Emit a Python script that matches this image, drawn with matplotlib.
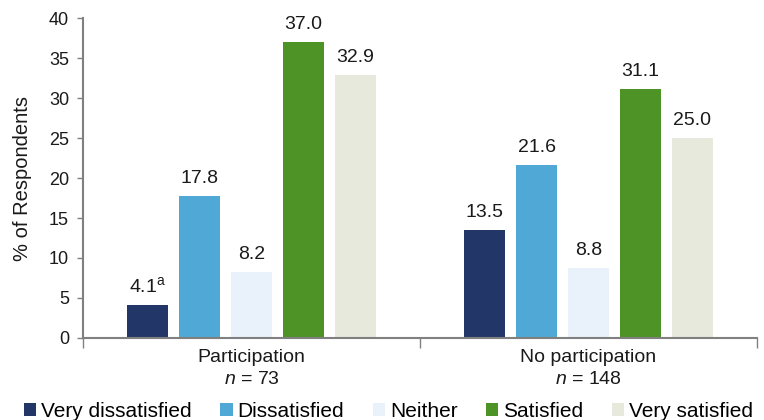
import matplotlib
matplotlib.use("Agg")
import matplotlib.pyplot as plt
import numpy as np

plt.rcParams['font.family'] = ['Liberation Sans', 'DejaVu Sans']
plt.rcParams['mathtext.fontset'] = 'custom'
plt.rcParams['mathtext.rm'] = 'Liberation Sans'
plt.rcParams['mathtext.it'] = 'Liberation Sans:italic'

groups = ["Participation\n$n$ = 73", "No participation\n$n$ = 148"]
series = ["Very dissatisfied", "Dissatisfied", "Neither", "Satisfied", "Very satisfied"]
values = {
    "Very dissatisfied": [4.1, 13.5],
    "Dissatisfied": [17.8, 21.6],
    "Neither": [8.2, 8.8],
    "Satisfied": [37.0, 31.1],
    "Very satisfied": [32.9, 25.0],
}
labels = {
    "Very dissatisfied": ["4.1$^{\\mathrm{a}}$", "13.5"],
    "Dissatisfied": ["17.8", "21.6"],
    "Neither": ["8.2", "8.8"],
    "Satisfied": ["37.0", "31.1"],
    "Very satisfied": ["32.9", "25.0"],
}
colors = ["#223767", "#4fa8d6", "#e9f1fb", "#4e9325", "#e6e9dc"]
yticks = [0, 5, 10, 15, 20, 25, 30, 35, 40]

fig = plt.figure(figsize=(7.64, 4.2), dpi=100)
ax = fig.add_axes([83/764, 1-338/420, (757-83)/764, (338-18)/420])

x = np.arange(len(groups))
step = 0.154
width = 0.122
for i, s in enumerate(series):
    pos = x + (i - 2) * step
    bars = ax.bar(pos, values[s], width, color=colors[i], label=s, zorder=2)
    for b, lab in zip(bars, labels[s]):
        ax.annotate(lab, (b.get_x() + b.get_width()/2, b.get_height()),
                    xytext=(0, 6.5), textcoords="offset points",
                    ha="center", va="bottom", fontsize=14, color="#1a1a1a")

ax.set_xlim(-0.5, 1.5)
ax.set_ylim(0, 40)
ax.set_yticks(yticks)
ax.tick_params(axis='y', labelsize=13, length=4, width=1, color="#808080", pad=6, labelcolor="#1a1a1a")
ax.set_xticks(x)
ax.set_xticklabels(groups, fontsize=14, color="#1a1a1a", linespacing=1.4)
ax.tick_params(axis='x', which='major', length=0, pad=8)
ax.set_xticks([-0.5, 0.5, 1.5], minor=True)
ax.tick_params(axis='x', which='minor', length=7, width=1, color="#808080")
for sp in ["top", "right"]:
    ax.spines[sp].set_visible(False)
for sp in ["left", "bottom"]:
    ax.spines[sp].set_color("#808080")
    ax.spines[sp].set_linewidth(1.5)
ax.set_ylabel("% of Respondents", fontsize=14.5, color="#1a1a1a", labelpad=12)

leg = fig.legend(loc="upper left", bbox_to_anchor=(24/764, 1-402/420), ncol=5, frameon=False,
                 fontsize=15, handlelength=0.58, handleheight=0.58, handletextpad=0.24,
                 columnspacing=1.38, borderaxespad=0, borderpad=0)
fig.savefig("out.png", dpi=100)
